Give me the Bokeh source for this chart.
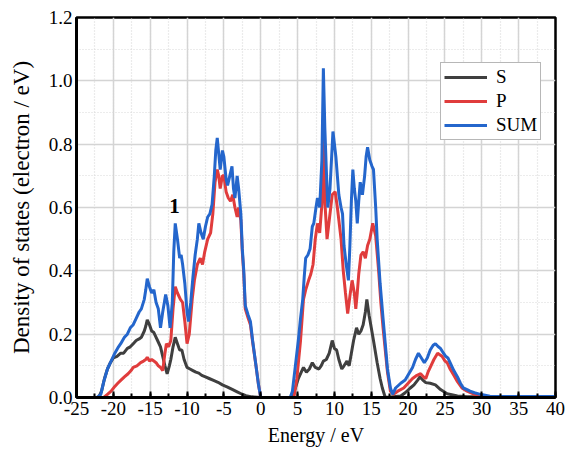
from bokeh.plotting import figure
from bokeh.models import Range1d, FixedTicker, PrintfTickFormatter, Legend, LegendItem
from bokeh.core.properties import value
from bokeh.embed import file_html
from bokeh.resources import INLINE

# ---------------- data ----------------
e_s = [-25, -22.0, -21.6, -21.2, -20.8, -20.4, -20.0, -19.5, -19.0, -18.6, -18.1, -17.7, -17.3, -16.9,
       -16.5, -16.2, -15.8, -15.6, -15.4, -15.1, -14.8, -14.5, -14.2, -14.0, -13.6, -13.3, -13.0, -12.7,
       -12.4, -12.2, -11.9, -11.6, -11.3, -11.0, -10.7, -10.4, -10.0, -9.6, -9.2, -8.8, -8.4, -8.0, -7.5,
       -7.0, -6.4, -5.8, -5.2, -4.5, -3.8, -3.2, -2.6, -2.0, -1.2, 0, 4.3,
       4.7, 5.1, 5.5, 5.8, 6.2, 6.6, 7.0, 7.4, 7.9, 8.2, 8.5, 8.9, 9.3, 9.7, 10.0, 10.3, 10.6, 11.0, 11.3,
       11.7, 12.0, 12.3, 12.6, 13.0, 13.3, 13.6, 13.9, 14.2, 14.4, 14.7, 15.0, 15.3, 15.8, 16.2, 16.5, 16.9,
       19.0, 19.6, 20.3, 20.8, 21.3, 21.6, 22.0, 22.4, 23.0, 23.7, 24.4, 25.3, 26.7, 28.0, 40]
s_vals = [0, 0, 0.02, 0.06, 0.09, 0.11, 0.125, 0.13, 0.14, 0.14, 0.155, 0.16, 0.17, 0.18,
          0.185, 0.19, 0.21, 0.225, 0.245, 0.23, 0.21, 0.205, 0.19, 0.18, 0.16, 0.13, 0.10, 0.075,
          0.10, 0.12, 0.16, 0.19, 0.17, 0.15, 0.15, 0.12, 0.095, 0.09, 0.085, 0.08, 0.077, 0.07, 0.065,
          0.06, 0.054, 0.048, 0.04, 0.033, 0.025, 0.018, 0.011, 0.006, 0.002, 0, 0,
          0.03, 0.06, 0.08, 0.095, 0.08, 0.09, 0.11, 0.095, 0.09, 0.10, 0.115, 0.12, 0.14, 0.18, 0.155, 0.15,
          0.12, 0.09, 0.10, 0.115, 0.10, 0.14, 0.18, 0.22, 0.20, 0.21, 0.23, 0.27, 0.31, 0.26, 0.22, 0.18,
          0.11, 0.06, 0.03, 0.0,
          0.005, 0.015, 0.03, 0.04, 0.055, 0.065, 0.055, 0.047, 0.045, 0.04, 0.025, 0.012, 0.005, 0.002, 0.002]

e_p = [-25, -21.3, -20.8, -20.3, -19.8, -19.4, -19.0, -18.5, -18.0, -17.6, -17.3, -16.8, -16.3, -15.9,
       -15.6, -15.4, -15.1, -14.8, -14.5, -14.2, -13.9, -13.6, -13.3, -13.0, -12.8, -12.5, -12.2, -11.9,
       -11.6, -11.3, -10.9, -10.6, -10.3, -10.0, -9.7, -9.3, -9.0, -8.6, -8.2, -7.9, -7.6, -7.2, -6.8,
       -6.5, -6.2, -5.9, -5.7, -5.5, -5.2, -5.0, -4.7, -4.4, -4.1, -3.8, -3.5, -3.2, -3.0, -2.7, -2.5,
       -2.3, -2.1, -1.7, -1.4, -1.1, -0.7, -0.3, 0, 4.5,
       4.9, 5.4, 5.8, 6.1, 6.5, 6.8, 7.1, 7.4, 7.7, 8.0, 8.3, 8.5, 8.7, 9.0, 9.3, 9.7, 10.1, 10.4, 10.6,
       10.9, 11.2, 11.5, 11.8, 12.1, 12.4, 12.7, 12.9, 13.1, 13.3, 13.6, 13.9, 14.2, 14.5, 14.8, 15.2,
       15.6, 16.0, 16.3, 16.6, 16.9, 17.2, 17.6, 18.0,
       18.6, 19.4, 20.0, 20.6, 21.2, 21.7, 22.1, 22.4, 22.7, 23.0, 23.5, 24.0, 24.3, 24.6, 25.0, 25.3,
       25.7, 26.2, 26.7, 27.3, 28.0, 29.0, 29.8, 31.0, 40]
p_vals = [0, 0, 0.01, 0.02, 0.035, 0.045, 0.054, 0.065, 0.075, 0.085, 0.095, 0.10, 0.11, 0.115,
          0.12, 0.127, 0.115, 0.12, 0.115, 0.11, 0.10, 0.095, 0.085, 0.14, 0.17, 0.16, 0.18, 0.28,
          0.35, 0.33, 0.31, 0.30, 0.24, 0.17, 0.20, 0.31, 0.37, 0.42, 0.44, 0.42, 0.46, 0.50, 0.52,
          0.58, 0.68, 0.72, 0.70, 0.66, 0.70, 0.70, 0.65, 0.63, 0.62, 0.64, 0.60, 0.57, 0.60, 0.56, 0.46,
          0.39, 0.28, 0.25, 0.23, 0.175, 0.11, 0.04, 0, 0,
          0.06, 0.18, 0.31, 0.34, 0.37, 0.39, 0.42, 0.50, 0.55, 0.52, 0.61, 0.85, 0.62, 0.50, 0.56, 0.64,
          0.65, 0.60, 0.56, 0.50, 0.40, 0.33, 0.265, 0.32, 0.37, 0.33, 0.28, 0.33, 0.39, 0.45, 0.46, 0.44,
          0.48, 0.50, 0.55, 0.51, 0.40, 0.30, 0.22, 0.15, 0.08, 0.02, 0.01,
          0.02, 0.03, 0.045, 0.06, 0.07, 0.075, 0.065, 0.06, 0.08, 0.095, 0.12, 0.14, 0.135, 0.13, 0.115,
          0.11, 0.09, 0.07, 0.05, 0.03, 0.02, 0.01, 0.005, 0.002, 0.002]

e_sum = [-25, -22.2, -21.7, -21.3, -20.8, -20.4, -19.8, -19.3, -19.0, -18.5, -18.1, -17.7, -17.3, -16.9,
         -16.5, -16.2, -15.8, -15.6, -15.4, -15.1, -14.8, -14.5, -14.2, -13.9, -13.6, -13.3, -12.9, -12.6,
         -12.3, -12.0, -11.8, -11.6, -11.3, -11.0, -10.8, -10.6, -10.3, -10.0, -9.8, -9.5, -9.2, -8.9,
         -8.6, -8.4, -8.1, -7.8, -7.5, -7.2, -6.9, -6.6, -6.3, -6.1, -5.9, -5.7, -5.5, -5.2, -5.0, -4.7,
         -4.5, -4.2, -3.9, -3.7, -3.5, -3.2, -3.0, -2.7, -2.5, -2.3, -2.1, -1.7, -1.4, -1.1, -0.7, -0.3,
         0.0, 4.0,
         4.3, 4.7, 5.1, 5.4, 5.7, 5.9, 6.1, 6.4, 6.7, 7.0, 7.2, 7.5, 7.7, 8.0, 8.3, 8.5, 8.7, 8.9, 9.1,
         9.4, 9.6, 9.8, 10.0, 10.2, 10.4, 10.6, 10.9, 11.1, 11.3, 11.6, 11.9, 12.1, 12.3, 12.5, 12.7,
         12.9, 13.1, 13.3, 13.5, 13.8, 14.1, 14.3, 14.5, 14.8, 15.1, 15.3, 15.6, 15.8, 16.2, 16.6, 16.9,
         17.2, 17.6, 17.9,
         18.3, 19.0, 19.6, 20.1, 20.6, 21.0, 21.4, 21.8, 22.2, 22.6, 23.0, 23.4, 23.7, 24.1, 24.4, 24.8,
         25.1, 25.4, 25.7, 26.2, 26.7, 27.1, 27.5, 28.0, 28.4, 29.0, 29.8, 31.1, 33.0, 40]
sum_vals = [0, 0, 0.01, 0.05, 0.09, 0.11, 0.14, 0.16, 0.17, 0.19, 0.20, 0.22, 0.23, 0.25,
            0.27, 0.28, 0.31, 0.34, 0.375, 0.35, 0.33, 0.34, 0.30, 0.28, 0.22, 0.27, 0.325, 0.29,
            0.22, 0.30, 0.46, 0.55, 0.50, 0.44, 0.45, 0.42, 0.36, 0.27, 0.24, 0.30, 0.38, 0.45,
            0.50, 0.55, 0.52, 0.50, 0.54, 0.57, 0.58, 0.61, 0.70, 0.78, 0.82, 0.77, 0.72, 0.78, 0.76, 0.69,
            0.67, 0.70, 0.73, 0.66, 0.63, 0.70, 0.66, 0.58, 0.47, 0.40, 0.29, 0.26, 0.24, 0.18, 0.11, 0.04,
            0.0, 0.0,
            0.02, 0.10, 0.18, 0.25, 0.31, 0.38, 0.44, 0.45, 0.47, 0.54, 0.55, 0.60, 0.63, 0.60, 0.75, 1.04,
            0.85, 0.72, 0.60, 0.66, 0.75, 0.84, 0.80, 0.76, 0.70, 0.64, 0.60, 0.58, 0.48, 0.42, 0.37, 0.48,
            0.62, 0.72, 0.66, 0.62, 0.55, 0.62, 0.68, 0.64, 0.70, 0.76, 0.79, 0.75, 0.73, 0.72, 0.60, 0.50,
            0.36, 0.25, 0.17, 0.09, 0.03, 0.01,
            0.03, 0.045, 0.055, 0.075, 0.095, 0.12, 0.14, 0.125, 0.11, 0.125, 0.15, 0.165, 0.17, 0.16,
            0.155, 0.14, 0.13, 0.125, 0.11, 0.085, 0.065, 0.045, 0.03, 0.025, 0.02, 0.015, 0.01, 0.004,
            0.003, 0.003]

x_ticks = [-25, -20, -15, -10, -5, 0, 5, 10, 15, 20, 25, 30, 35, 40]
x_tick_labels = ["-25", "-20", "-15", "-10", "-5", "0", "5", "10", "15", "20", "25", "30", "35", "40"]
x_minor = [-22.5, -17.5, -12.5, -7.5, -2.5, 2.5, 7.5, 12.5, 17.5, 22.5, 27.5, 32.5, 37.5]
y_ticks = [0.0, 0.2, 0.4, 0.6, 0.8, 1.0, 1.2]
y_minor = [0.1, 0.3, 0.5, 0.7, 0.9, 1.1]
series_names = ["S", "P", "SUM"]
ann_x = [-11.7]
ann_y = [0.605]
ann_text = ["1"]

FONT = "Liberation Serif"

p = figure(width=566, height=452, x_range=Range1d(-25, 40), y_range=Range1d(0, 1.2),
           output_backend="svg", toolbar_location=None,
           min_border_left=76, min_border_right=11, min_border_top=17, min_border_bottom=55,
           background_fill_color="white", border_fill_color="white")

p.outline_line_color = "black"
p.outline_line_width = 2.5
p.outline_line_alpha = 1

p.xaxis.ticker = FixedTicker(ticks=x_ticks, minor_ticks=x_minor + x_ticks)
p.xaxis.major_label_overrides = {t: lab for t, lab in zip(x_ticks, x_tick_labels)}
p.yaxis.ticker = FixedTicker(ticks=y_ticks, minor_ticks=y_minor + y_ticks)
p.yaxis.formatter = PrintfTickFormatter(format="%.1f")

p.xaxis.major_label_text_font = FONT
p.yaxis.major_label_text_font = FONT
p.xaxis.major_label_text_font_size = "19px"
p.yaxis.major_label_text_font_size = "19px"
p.xaxis.major_label_text_color = "black"
p.yaxis.major_label_text_color = "black"
p.xaxis.major_label_standoff = 4
p.yaxis.major_label_standoff = 4
p.xaxis.axis_label_text_font = FONT
p.yaxis.axis_label_text_font = FONT
p.xaxis.axis_label_text_font_style = "normal"
p.yaxis.axis_label_text_font_style = "normal"
p.xaxis.axis_label_text_color = "black"
p.yaxis.axis_label_text_color = "black"
p.xaxis.axis_line_color = "black"
p.yaxis.axis_line_color = "black"
p.xaxis.axis_line_width = 3
p.yaxis.axis_line_width = 3

p.xaxis.major_tick_in = 6
p.xaxis.major_tick_out = 0
p.xaxis.minor_tick_in = 4
p.xaxis.minor_tick_out = 0
p.xaxis.major_tick_line_color = "black"
p.xaxis.major_tick_line_width = 2
p.xaxis.minor_tick_line_color = "black"
p.xaxis.minor_tick_line_width = 2
p.xaxis.axis_label = "Energy / eV"
p.xaxis.axis_label_text_font_size = "20px"
p.xaxis.axis_label_standoff = 6

p.yaxis.major_tick_in = 0
p.yaxis.major_tick_out = 0
p.yaxis.minor_tick_in = 0
p.yaxis.minor_tick_out = 0
p.yaxis.axis_label = "Density of states (electron / eV)"
p.yaxis.axis_label_text_font_size = "23px"
p.yaxis.axis_label_standoff = 12

for g in (p.xgrid[0], p.ygrid[0]):
    g.grid_line_color = "#d4d4d4"
    g.grid_line_width = 1.5
    g.minor_grid_line_color = "#d8d8d8"
    g.minor_grid_line_width = 1.2
    g.minor_grid_line_dash = "1 2"

colors = ["#3f3f3f", "#e03c3c", "#2466cc"]
r_s = p.line(e_s, s_vals, line_color=colors[0], line_width=3)
r_p = p.line(e_p, p_vals, line_color=colors[1], line_width=3)
r_sum = p.line(e_sum, sum_vals, line_color=colors[2], line_width=3)

p.text(x=ann_x, y=ann_y, text=ann_text, text_font=value(FONT), text_font_style="bold",
       text_font_size="21px", text_align="center", text_baseline="middle", text_color="black")

legend = Legend(items=[LegendItem(label=series_names[0], renderers=[r_s]),
                       LegendItem(label=series_names[1], renderers=[r_p]),
                       LegendItem(label=series_names[2], renderers=[r_sum])],
                location=(364, 257))
legend.glyph_width = 43
legend.glyph_height = 20
legend.label_height = 20
legend.spacing = 2
legend.padding = 3
legend.margin = 0
legend.label_standoff = 9
legend.label_text_font = FONT
legend.label_text_font_size = "19px"
legend.label_text_color = "black"
legend.border_line_color = "#707070"
legend.border_line_width = 1.5
legend.background_fill_color = "white"
legend.background_fill_alpha = 1
p.add_layout(legend)

open("out.html", "w").write(file_html(p, INLINE))
